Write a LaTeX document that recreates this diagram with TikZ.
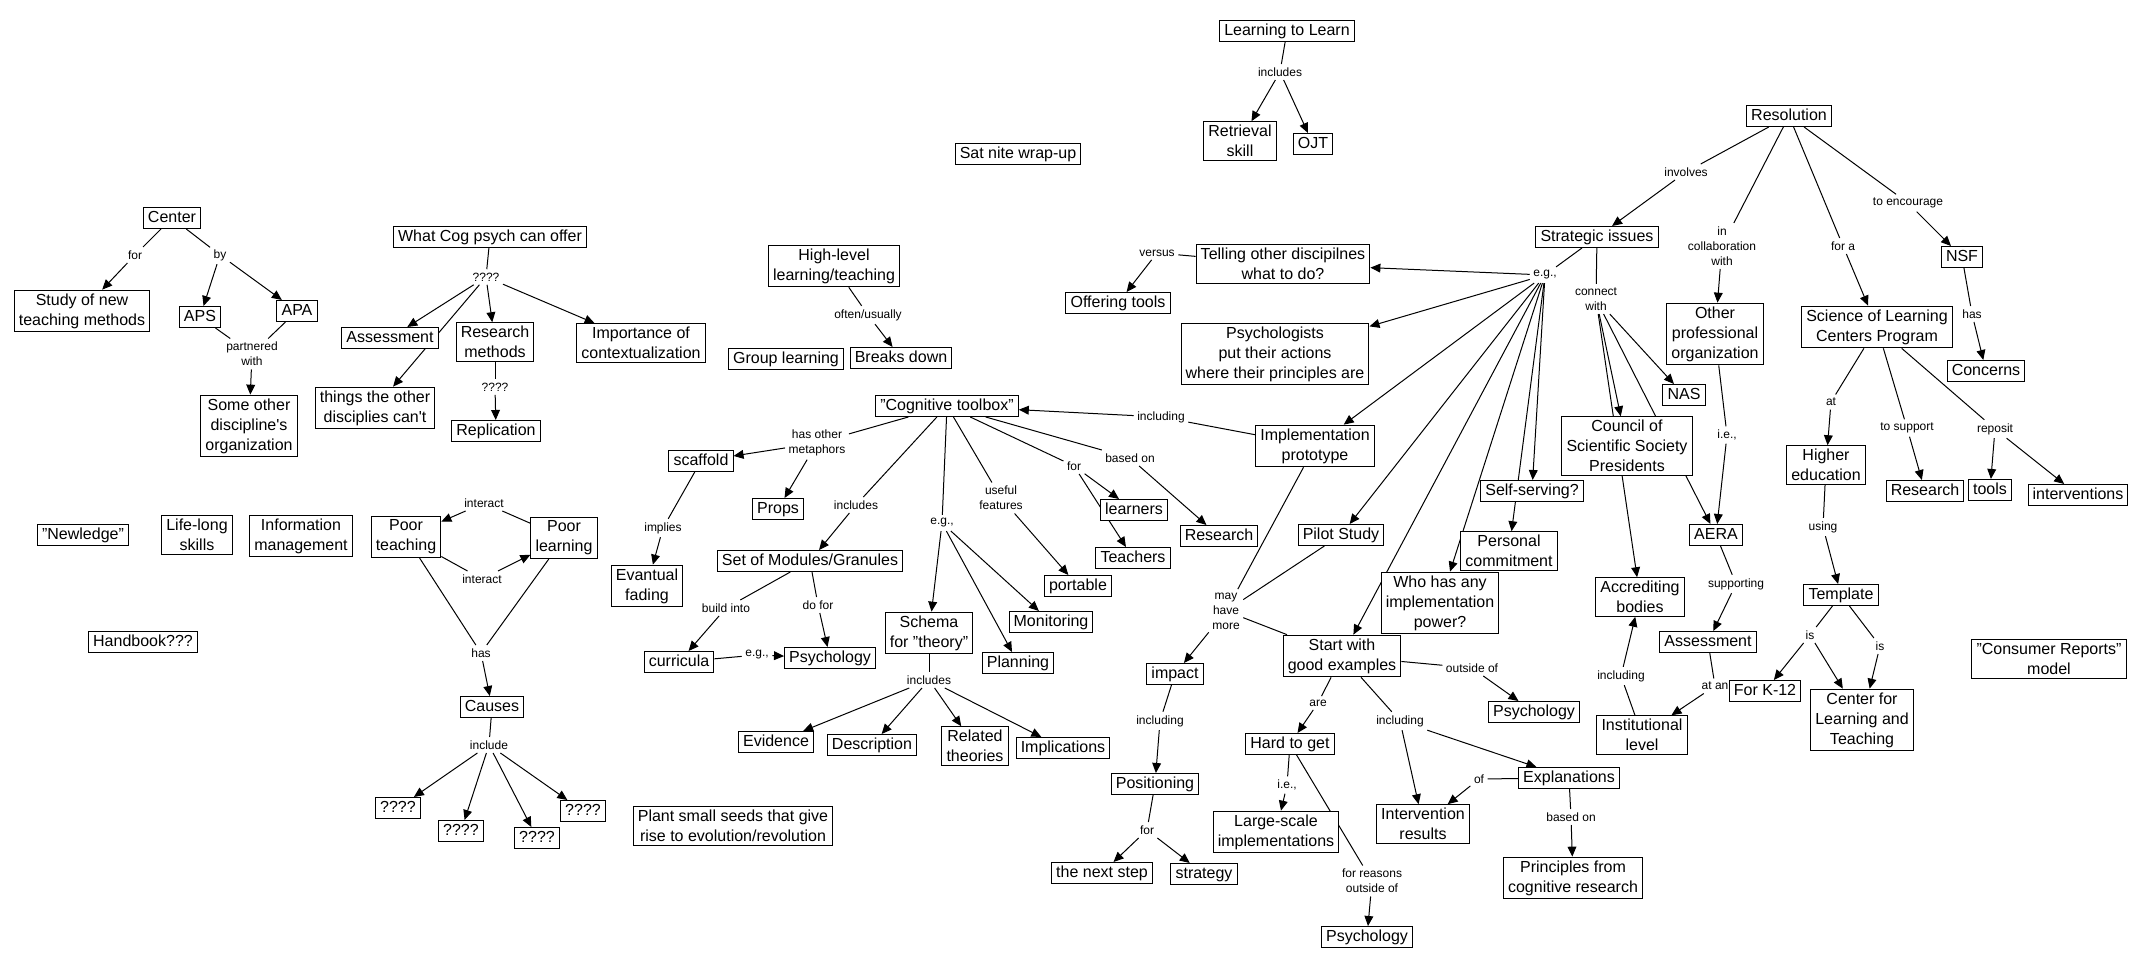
\documentclass[tikz,border=0pt]{standalone}
\usepackage{fontspec}
\setmainfont{Liberation Sans}
\usetikzlibrary{arrows.meta,backgrounds}
\tikzset{
  box/.style={draw, line width=0.5pt, fill=white, font=\fontsize{8}{10}\selectfont,
    inner xsep=2.3pt, inner ysep=1.1pt, text height=6.5pt, text depth=1.8pt},
  mbox/.style={draw, line width=0.5pt, fill=white, font=\fontsize{8}{10}\selectfont,
    inner xsep=2.3pt, inner ysep=1.7pt, align=center},
  lab/.style={font=\fontsize{6}{7.5}\selectfont, inner sep=1.6pt, align=center},
  ln/.style={line width=0.5pt},
  arr/.style={line width=0.5pt, -{Triangle[length=5pt,width=4.4pt]}}
}
\begin{document}
\begin{tikzpicture}[x=0.5pt,y=-0.5pt]
\useasboundingbox (0,0) rectangle (2142,967);

% ---------- concepts ----------
\node[box] (center) at (172,218) {Center};
\node[mbox] (study) at (82,311) {Study of new\\teaching methods};
\node[box] (aps) at (200,317) {APS};
\node[box] (apa) at (297,311) {APA};
\node[mbox] (someother) at (249,426) {Some other\\discipline\textquotesingle s\\organization};
\node[box] (whatcog) at (490,237) {What Cog psych can offer};
\node[box] (assess1) at (390,338) {Assessment};
\node[mbox] (resmeth) at (495,342) {Research\\methods};
\node[mbox] (importance) at (641,343) {Importance of\\contextualization};
\node[mbox] (things) at (375,408) {things the other\\disciplies can\textquotesingle t};
\node[box] (replication) at (496,431) {Replication};
\node[box] (l2l) at (1287,31) {Learning to Learn};
\node[mbox] (retrieval) at (1240,141) {Retrieval\\skill};
\node[box] (ojt) at (1313,144) {OJT};
\node[box] (satnite) at (1018,154) {Sat nite wrap-up};
\node[mbox] (highlevel) at (834,266) {High-level\\learning/teaching};
\node[box] (group) at (786,359) {Group learning};
\node[box] (breaks) at (901,358) {Breaks down};
\node[mbox] (telling) at (1283,264) {Telling other discipilnes\\what to do?};
\node[box] (offering) at (1118,303) {Offering tools};
\node[mbox] (psychologists) at (1275,354) {Psychologists\\put their actions\\where their principles are};
\node[box] (toolbox) at (947,406) {"Cognitive toolbox"};
\node[mbox] (implproto) at (1315,446) {Implementation\\prototype};
\node[box] (scaffold) at (701,461) {scaffold};
\node[box] (props) at (778,509) {Props};
\node[box] (modules) at (810,561) {Set of Modules/Granules};
\node[box] (learners) at (1134,510) {learners};
\node[box] (teachers) at (1133,558) {Teachers};
\node[box] (research1) at (1219,536) {Research};
\node[box] (portable) at (1078,586) {portable};
\node[box] (monitoring) at (1051,622) {Monitoring};
\node[mbox] (schema) at (929,633) {Schema\\for "theory"};
\node[box] (planning) at (1018,663) {Planning};
\node[box] (psych1) at (830,658) {Psychology};
\node[box] (curricula) at (679,662) {curricula};
\node[mbox] (fading) at (647,586) {Evantual\\fading};
\node[box] (evidence) at (776,742) {Evidence};
\node[box] (description) at (872,745) {Description};
\node[mbox] (related) at (975,746) {Related\\theories};
\node[box] (implications) at (1063,748) {Implications};
\node[box] (newledge) at (83,535) {"Newledge"};
\node[mbox] (lifelong) at (197,535) {Life-long\\skills};
\node[mbox] (infoman) at (301,536) {Information\\management};
\node[mbox] (poorteach) at (406,537) {Poor\\teaching};
\node[mbox] (poorlearn) at (564,538) {Poor\\learning};
\node[box] (causes) at (492,707) {Causes};
\node[box] (qa) at (398,808) {????};
\node[box] (qb) at (461,831) {????};
\node[box] (qc) at (537,838) {????};
\node[box] (qd) at (583,811) {????};
\node[box] (handbook) at (143,642) {Handbook???};
\node[mbox] (plant) at (733,826) {Plant small seeds that give\\rise to evolution/revolution};
\node[box] (impact) at (1175,674) {impact};
\node[box] (positioning) at (1155,784) {Positioning};
\node[box] (nextstep) at (1102,873) {the next step};
\node[box] (strategy) at (1204,874) {strategy};
\node[box] (pilot) at (1341,535) {Pilot Study};
\node[mbox] (startwith) at (1342,656) {Start with\\good examples};
\node[mbox] (whohas) at (1440,603) {Who has any\\implementation\\power?};
\node[box] (hard) at (1290,744) {Hard to get};
\node[mbox] (largescale) at (1276,832) {Large-scale\\implementations};
\node[box] (psych3) at (1367,937) {Psychology};
\node[mbox] (intervention) at (1423,824) {Intervention\\results};
\node[box] (explanations) at (1569,778) {Explanations};
\node[mbox] (principles) at (1573,878) {Principles from\\cognitive research};
\node[box] (psych2) at (1534,712) {Psychology};
\node[box] (resolution) at (1789,116) {Resolution};
\node[box] (strategic) at (1597,237) {Strategic issues};
\node[box] (nsf) at (1962,257) {NSF};
\node[box] (concerns) at (1986,371) {Concerns};
\node[mbox] (otherprof) at (1715,334) {Other\\professional\\organization};
\node[mbox] (science) at (1877,327) {Science of Learning\\Centers Program};
\node[box] (nas) at (1684,395) {NAS};
\node[mbox] (council) at (1627,446) {Council of\\Scientific Society\\Presidents};
\node[mbox] (highered) at (1826,465) {Higher\\education};
\node[box] (selfserving) at (1532,491) {Self-serving?};
\node[box] (research2) at (1925,491) {Research};
\node[box] (tools) at (1990,490) {tools};
\node[box] (interventions) at (2078,495) {interventions};
\node[mbox] (personal) at (1509,551) {Personal\\commitment};
\node[box] (aera) at (1716,535) {AERA};
\node[mbox] (accrediting) at (1640,597) {Accrediting\\bodies};
\node[box] (template) at (1841,595) {Template};
\node[box] (assess2) at (1708,642) {Assessment};
\node[mbox] (consumer) at (2049,659) {"Consumer Reports"\\model};
\node[box] (k12) at (1765,691) {For K-12};
\node[mbox] (cflt) at (1862,720) {Center for\\Learning and\\Teaching};
\node[mbox] (institutional) at (1642,735) {Institutional\\level};

% ---------- linking phrases ----------
\node[lab] (Lfor) at (135,255) {for};
\node[lab] (Lby) at (220,255) {by};
\node[lab] (Lpartner) at (252,354) {partnered\\with};
\node[lab] (Lq1) at (486,277) {????};
\node[lab] (Lq2) at (495,387) {????};
\node[lab] (Lincl2l) at (1280,72) {includes};
\node[lab] (Loften) at (868,315) {often/usually};
\node[lab] (Lversus) at (1157,253) {versus};
\node[lab] (Leg1) at (1545,275) {e.g.,};
\node[lab] (Lcw) at (1596,299) {connect\\with};
\node[lab] (Linvolves) at (1686,172) {involves};
\node[lab] (Lcollab) at (1722,246) {in\\collaboration\\with};
\node[lab] (Lfora) at (1843,246) {for a};
\node[lab] (Lencourage) at (1908,203) {to encourage};
\node[lab] (Lhasnsf) at (1972,314) {has};
\node[lab] (Lie1) at (1727,435) {i.e.,};
\node[lab] (Lat) at (1831,402) {at};
\node[lab] (Lsupport) at (1907,428) {to support};
\node[lab] (Lreposit) at (1995,429) {reposit};
\node[lab] (Lusing) at (1823,527) {using};
\node[lab] (Lis1) at (1810,635) {is};
\node[lab] (Lis2) at (1880,646) {is};
\node[lab] (Lsupporting) at (1736,584) {supporting};
\node[lab] (Latan) at (1715,686) {at an};
\node[lab] (Linclinst) at (1621,676) {including};
\node[lab] (Linclproto) at (1161,417) {including};
\node[lab] (Lmetaphors) at (817,443) {has other\\metaphors};
\node[lab] (Linctool) at (856,505) {includes};
\node[lab] (Legtool) at (942,523) {e.g.,};
\node[lab] (Luseful) at (1001,498) {useful\\features};
\node[lab] (Lfortool) at (1074,466) {for};
\node[lab] (Lbasedtool) at (1130,458) {based on};
\node[lab] (Limplies) at (663,528) {implies};
\node[lab] (Lbuild) at (726,608) {build into};
\node[lab] (Ldofor) at (818,605) {do for};
\node[lab] (Legsmall) at (757,655) {e.g.,};
\node[lab] (Linschema) at (929,680) {includes};
\node[lab] (Linter1) at (484,503) {interact};
\node[lab] (Linter2) at (482,579) {interact};
\node[lab] (Lhas) at (481,653) {has};
\node[lab] (Linclude) at (489,745) {include};
\node[lab] (Lmay) at (1226,611) {may\\have\\more};
\node[lab] (Linclimpact) at (1160,721) {including};
\node[lab] (Lforpos) at (1147,830) {for};
\node[lab] (Lare) at (1318,703) {are};
\node[lab] (Lie2) at (1287,785) {i.e.,};
\node[lab] (Lreasons) at (1372,881) {for reasons\\outside of};
\node[lab] (Linclstart) at (1400,721) {including};
\node[lab] (Loutside) at (1472,668) {outside of};
\node[lab] (Lof) at (1479,779) {of};
\node[lab] (Lbasedexp) at (1571,817) {based on};

% ---------- connectors ----------
\begin{scope}[on background layer]
\fill[white] (0,0) rectangle (2142,967);
\draw[ln] (center) -- (Lfor); \draw[arr] (Lfor) -- (study);
\draw[ln] (center) -- (Lby); \draw[arr] (Lby) -- (aps); \draw[arr] (Lby) -- (apa);
\draw[ln] (aps) -- (Lpartner); \draw[ln] (apa) -- (Lpartner); \draw[arr] (Lpartner) -- (someother);
\draw[ln] (whatcog) -- (Lq1);
\draw[arr] (Lq1) -- (assess1); \draw[arr] (Lq1) -- (resmeth);
\draw[arr] (Lq1) -- (importance); \draw[arr] (Lq1) -- (things);
\draw[ln] (resmeth) -- (Lq2); \draw[arr] (Lq2) -- (replication);
\draw[ln] (l2l) -- (Lincl2l); \draw[arr] (Lincl2l) -- (retrieval); \draw[arr] (Lincl2l) -- (ojt);
\draw[ln] (highlevel) -- (Loften); \draw[arr] (Loften) -- (breaks);
\draw[ln] (telling) -- (Lversus); \draw[arr] (Lversus) -- (offering);
\draw[ln] (strategic) -- (Leg1);
\draw[arr] (Leg1) -- (telling); \draw[arr] (Leg1) -- (psychologists);
\draw[arr] (Leg1) -- (implproto); \draw[arr] (Leg1) -- (pilot);
\draw[arr] (Leg1) -- (startwith); \draw[arr] (Leg1) -- (whohas);
\draw[arr] (Leg1) -- (selfserving); \draw[arr] (Leg1) -- (personal);
\draw[ln] (strategic) -- (Lcw);
\draw[arr] (Lcw) -- (council); \draw[arr] (Lcw) -- (accrediting);
\draw[arr] (Lcw) -- (nas); \draw[arr] (Lcw) -- (aera);
\draw[ln] (resolution) -- (Linvolves); \draw[arr] (Linvolves) -- (strategic);
\draw[ln] (resolution) -- (Lcollab); \draw[arr] (Lcollab) -- (otherprof);
\draw[ln] (resolution) -- (Lfora); \draw[arr] (Lfora) -- (science);
\draw[ln] (resolution) -- (Lencourage); \draw[arr] (Lencourage) -- (nsf);
\draw[ln] (nsf) -- (Lhasnsf); \draw[arr] (Lhasnsf) -- (concerns);
\draw[ln] (otherprof) -- (Lie1); \draw[arr] (Lie1) -- (aera);
\draw[ln] (science) -- (Lat); \draw[arr] (Lat) -- (highered);
\draw[ln] (science) -- (Lsupport); \draw[arr] (Lsupport) -- (research2);
\draw[ln] (science) -- (Lreposit); \draw[arr] (Lreposit) -- (tools); \draw[arr] (Lreposit) -- (interventions);
\draw[ln] (highered) -- (Lusing); \draw[arr] (Lusing) -- (template);
\draw[ln] (template) -- (Lis1); \draw[arr] (Lis1) -- (k12); \draw[arr] (Lis1) -- (cflt);
\draw[ln] (template) -- (Lis2); \draw[arr] (Lis2) -- (cflt);
\draw[ln] (aera) -- (Lsupporting); \draw[arr] (Lsupporting) -- (assess2);
\draw[ln] (assess2) -- (Latan); \draw[arr] (Latan) -- (institutional);
\draw[ln] (institutional) -- (Linclinst); \draw[arr] (Linclinst) -- (accrediting);
\draw[ln] (implproto) -- (Linclproto); \draw[arr] (Linclproto) -- (toolbox);
\draw[ln] (toolbox) -- (Lmetaphors); \draw[arr] (Lmetaphors) -- (scaffold); \draw[arr] (Lmetaphors) -- (props);
\draw[ln] (toolbox) -- (Linctool); \draw[arr] (Linctool) -- (modules);
\draw[ln] (toolbox) -- (Legtool);
\draw[arr] (Legtool) -- (schema); \draw[arr] (Legtool) -- (planning); \draw[arr] (Legtool) -- (monitoring);
\draw[ln] (toolbox) -- (Luseful); \draw[arr] (Luseful) -- (portable);
\draw[ln] (toolbox) -- (Lfortool); \draw[arr] (Lfortool) -- (learners); \draw[arr] (Lfortool) -- (teachers);
\draw[ln] (toolbox) -- (Lbasedtool); \draw[arr] (Lbasedtool) -- (research1);
\draw[ln] (scaffold) -- (Limplies); \draw[arr] (Limplies) -- (fading);
\draw[ln] (modules) -- (Lbuild); \draw[arr] (Lbuild) -- (curricula);
\draw[ln] (modules) -- (Ldofor); \draw[arr] (Ldofor) -- (psych1);
\draw[ln] (curricula) -- (Legsmall); \draw[arr] (Legsmall) -- (psych1);
\draw[ln] (schema) -- (Linschema);
\draw[arr] (Linschema) -- (evidence); \draw[arr] (Linschema) -- (description);
\draw[arr] (Linschema) -- (related); \draw[arr] (Linschema) -- (implications);
\draw[ln] (poorlearn) -- (Linter1); \draw[arr] (Linter1) -- (poorteach);
\draw[ln] (poorteach) -- (Linter2); \draw[arr] (Linter2) -- (poorlearn);
\draw[ln] (poorteach) -- (Lhas); \draw[ln] (poorlearn) -- (Lhas); \draw[arr] (Lhas) -- (causes);
\draw[ln] (causes) -- (Linclude);
\draw[arr] (Linclude) -- (qa); \draw[arr] (Linclude) -- (qb);
\draw[arr] (Linclude) -- (qc); \draw[arr] (Linclude) -- (qd);
\draw[ln] (implproto) -- (Lmay); \draw[ln] (pilot) -- (Lmay); \draw[ln] (startwith) -- (Lmay);
\draw[arr] (Lmay) -- (impact);
\draw[ln] (impact) -- (Linclimpact); \draw[arr] (Linclimpact) -- (positioning);
\draw[ln] (positioning) -- (Lforpos); \draw[arr] (Lforpos) -- (nextstep); \draw[arr] (Lforpos) -- (strategy);
\draw[ln] (startwith) -- (Lare); \draw[arr] (Lare) -- (hard);
\draw[ln] (hard) -- (Lie2); \draw[arr] (Lie2) -- (largescale);
\draw[ln] (hard) -- (Lreasons); \draw[arr] (Lreasons) -- (psych3);
\draw[ln] (startwith) -- (Linclstart); \draw[arr] (Linclstart) -- (intervention); \draw[arr] (Linclstart) -- (explanations);
\draw[ln] (startwith) -- (Loutside); \draw[arr] (Loutside) -- (psych2);
\draw[ln] (explanations) -- (Lof); \draw[arr] (Lof) -- (intervention);
\draw[ln] (explanations) -- (Lbasedexp); \draw[arr] (Lbasedexp) -- (principles);
\end{scope}
\end{tikzpicture}
\end{document}
